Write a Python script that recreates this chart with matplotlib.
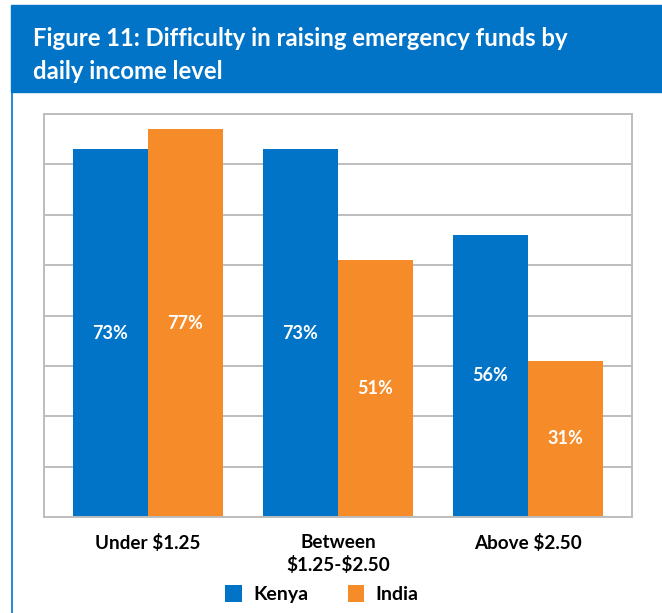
import numpy as np
import matplotlib.pyplot as plt
from matplotlib.patches import Rectangle
from matplotlib.lines import Line2D

# data
categories = ['Under \\$1.25', 'Between\n\\$1.25-\\$2.50', 'Above \\$2.50']
kenya = [73, 73, 56]
india = [77, 51, 31]
series_names = ['Kenya', 'India']

blue = '#0274C8'
orange = '#F68B2A'
grid_grey = '#BDBDBD'

plt.rcParams['font.family'] = ['Lato', 'DejaVu Sans']

fig = plt.figure(figsize=(6.62, 6.13), dpi=100)

# blue header band + thin left border
fig.patches.append(Rectangle((11 / 662, 1 - 92 / 613), 1, 87 / 613,
                             transform=fig.transFigure, color=blue, zorder=0))
fig.lines.append(Line2D([11.5 / 662, 11.5 / 662], [0, 1 - 92 / 613],
                        transform=fig.transFigure, color=blue, lw=1.2))
fig.text(33 / 662, 1 - 46 / 613, 'Figure 11: Difficulty in raising emergency funds by',
         color='white', fontsize=17.2, fontweight='bold', va='baseline')
fig.text(33 / 662, 1 - 79 / 613, 'daily income level',
         color='white', fontsize=17.2, fontweight='bold', va='baseline')

ax = fig.add_axes([44 / 662, 1 - 517 / 613, 588 / 662, 403 / 613])
x = np.arange(len(categories))
w = 0.395
b1 = ax.bar(x - w / 2, kenya, w, color=blue, zorder=2, label=series_names[0])
b2 = ax.bar(x + w / 2, india, w, color=orange, zorder=2, label=series_names[1])

for bars, vals in ((b1, kenya), (b2, india)):
    for r, v in zip(bars, vals):
        ax.text(r.get_x() + r.get_width() / 2, v / 2, f'{v}%', ha='center',
                va='center', color='white', fontsize=13, fontweight='bold')

ax.set_xlim(-0.547, 2.547)
ax.set_ylim(0, 80)
ax.set_yticks(np.arange(0, 81, 10))
ax.set_yticklabels([])
ax.tick_params(axis='y', length=0)
ax.tick_params(axis='x', length=0, pad=12)
ax.set_xticks(x)
ax.set_xticklabels(categories, fontsize=13.6, fontweight='bold', linespacing=1.35)
ax.grid(axis='y', color=grid_grey, lw=1.4, zorder=0)
for s in ax.spines.values():
    s.set_color(grid_grey)
    s.set_linewidth(1.4)

fig.legend(handles=[b1, b2], loc='center', bbox_to_anchor=(322 / 662, 1 - 594 / 613),
           ncol=2, frameon=False, prop={'weight': 'bold', 'size': 14},
           handlelength=0.85, handleheight=1.0, handletextpad=0.6, columnspacing=2.0)

fig.savefig('out.png', dpi=100)
